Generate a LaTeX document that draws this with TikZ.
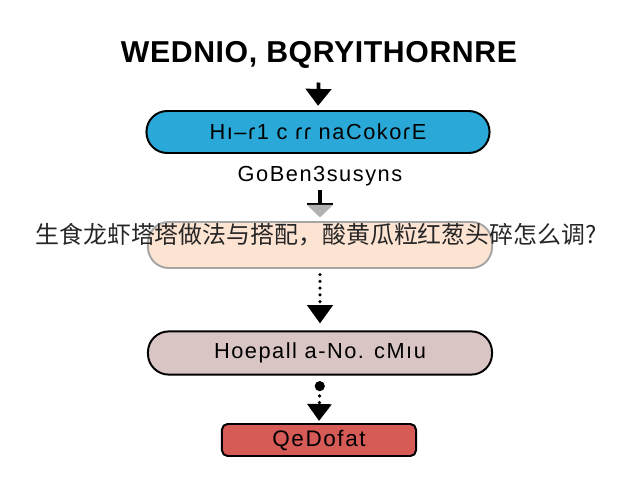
\documentclass[tikz,border=0pt]{standalone}
\usepackage{fontspec}
\setmainfont{Liberation Sans}
\newfontfamily\cjkfont{Noto Sans CJK SC}
\newfontfamily\widefont[LetterSpace=7]{Liberation Sans}
\usetikzlibrary{arrows.meta, positioning}

\definecolor{bluefill}{HTML}{2AA8D8}
\definecolor{peachfill}{HTML}{FDE4D2}
\definecolor{greyfill}{HTML}{D9C5C3}
\definecolor{redfill}{HTML}{D65A55}

\begin{document}
\begin{tikzpicture}[x=0.025cm, y=-0.025cm,
    pill/.style={rectangle, draw, line width=1.4pt, rounded corners=0.52cm,
      minimum width=8.6cm, minimum height=1.05cm,
      font=\widefont\fontsize{15.5}{17}\selectfont},
    arr/.style={line width=2.6pt, -{Triangle[width=18pt, length=12pt]}},
    dots/.style={line width=2.6pt, line cap=round, dash pattern=on 0pt off 4.8pt}]
  \useasboundingbox (0,0) rectangle (640,480);

  % Nodos
  \node[font=\bfseries\fontsize{21.5}{23}\selectfont\addfontfeatures{LetterSpace=2}, inner sep=0pt,
        text height=15pt, text depth=0pt] (title) at (319,52) {WEDNIO, BQRYITHORNRE};
  \node[pill, fill=bluefill, minimum width=8.575cm] (blue) at (318,132) {Hı–ɾ1 c ɾɾ naCokoɾE};
  \node[font=\widefont\fontsize{15.5}{17}\selectfont, inner sep=0pt,
        text height=11pt, text depth=0pt] (sub) at (320,174) {GoBen3susyns};
  \node[pill, fill=peachfill, draw=gray!70, minimum height=1.15cm] (peach) at (320,245) {};
  \node[pill, fill=greyfill, minimum height=1.08cm] (grey) at (320,353) {Hoepall a-No. cMıu};
  \node[rectangle, draw, line width=1.4pt, rounded corners=4pt, fill=redfill,
        minimum width=4.85cm, minimum height=0.8cm,
        font=\widefont\fontsize{16}{18}\selectfont] (red) at (319,440) {QeDofat};

  % Texto superpuesto
  \node[font=\cjkfont\fontsize{17}{19}\selectfont, text=black!85, inner sep=0pt] (cap) at (316,235)
    {生食龙虾塔塔做法与搭配，酸黄瓜粒红葱头碎怎么调?};

  % Flechas
  \draw[arr, shorten <=14pt, shorten >=3pt] (title.south) -- (blue.north);
  \draw[line width=2.6pt, shorten <=6pt, shorten >=2.5pt,
        -{Bar[width=18pt, line width=1.6pt] Triangle[width=18pt, length=9pt, gray!60]}]
    (sub.south) -- (peach.north);
  \draw[dots, shorten <=4pt, shorten >=5pt, -{Triangle[width=18pt, length=13pt]}]
    (peach.south) -- (grey.north);
  \draw[dots, shorten <=4pt, shorten >=1.5pt,
        {Circle[length=7pt, width=7pt]}-{Triangle[width=17pt, length=12pt]}]
    (grey.south) -- (red.north);
\end{tikzpicture}
\end{document}
